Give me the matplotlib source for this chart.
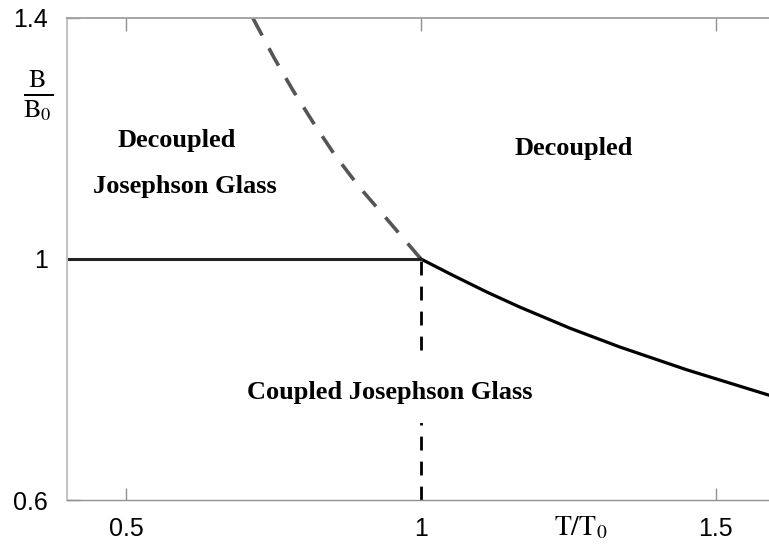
import matplotlib.pyplot as plt

plt.rcParams['mathtext.fontset'] = 'stix'

# boundary between decoupled glass and decoupled (dashed, T < T0)
t_dash = [0.715, 0.751, 0.783, 0.817, 0.853, 0.895, 0.939, 1.0]
b_dash = [1.400, 1.334, 1.280, 1.227, 1.174, 1.120, 1.070, 1.0]

# boundary above T0 (solid)
t_solid = [1.0, 1.054, 1.112, 1.168, 1.253, 1.337, 1.451, 1.59]
b_solid = [1.0, 0.973, 0.945, 0.920, 0.885, 0.854, 0.816, 0.774]

# horizontal line B = B0 and vertical line T = T0
t_horiz = [0.4, 1.0]
b_horiz = [1.0, 1.0]
t_vert = [1.0, 1.0]
b_vert = [0.6, 1.0]

xticks = [0.5, 1, 1.5]
xticklabels = ['0.5', '1', '1.5']
yticks = [0.6, 1, 1.4]
yticklabels = ['0.6', '1', '1.4']

fig = plt.figure(figsize=(7.69, 5.53), dpi=100)
ax = fig.add_axes([0.0871, 0.0958, 0.9129, 0.8717])

ax.plot(t_dash, b_dash, color='#555555', lw=2.6, dashes=(5.5, 4.0), solid_capstyle='butt')
ax.plot(t_solid, b_solid, color='black', lw=2.3)
ax.plot(t_horiz, b_horiz, color='#222222', lw=2.2)
ax.plot(t_vert, b_vert, color='black', lw=2.0, dashes=(5, 4))

ax.set_xlim(0.4, 1.59)
ax.set_ylim(0.6, 1.4)

ax.spines['right'].set_visible(False)
ax.spines['left'].set_color('#c4c4c4')
ax.spines['left'].set_linewidth(1.5)
ax.spines['top'].set_color('#a0a0a0')
ax.spines['top'].set_linewidth(1.3)
ax.spines['bottom'].set_color('#909090')
ax.spines['bottom'].set_linewidth(1.0)

ax.set_xticks(xticks)
ax.set_xticklabels(xticklabels, family='Liberation Sans', fontsize=18)
ax.set_yticks(yticks)
ax.set_yticklabels(yticklabels, family='Liberation Sans', fontsize=18)
ax.tick_params(axis='x', direction='in', top=True, length=9, width=1, color='#909090', pad=12)
ax.tick_params(axis='y', direction='in', length=9, width=1, color='#909090', pad=14)

ax.text(1.27, 0.555, r'$\mathrm{T/T}_0$', fontsize=20, ha='center', va='center')
ax.text(-0.041, 0.84, r'$\frac{\mathrm{B}}{\mathrm{B}_0}$', fontsize=27, ha='center', va='center',
        transform=ax.transAxes)

bold = dict(family='Liberation Serif', fontweight='bold', fontsize=19, ha='center', va='center')
ax.text(0.586, 1.197, 'Decoupled', **bold)
ax.text(0.6, 1.121, 'Josephson Glass', **bold)
ax.text(1.259, 1.184, 'Decoupled', **bold)
ax.text(0.947, 0.779, 'Coupled Josephson Glass',
        bbox=dict(facecolor='white', edgecolor='none', pad=14), **bold)

fig.savefig('out.png', dpi=100)
